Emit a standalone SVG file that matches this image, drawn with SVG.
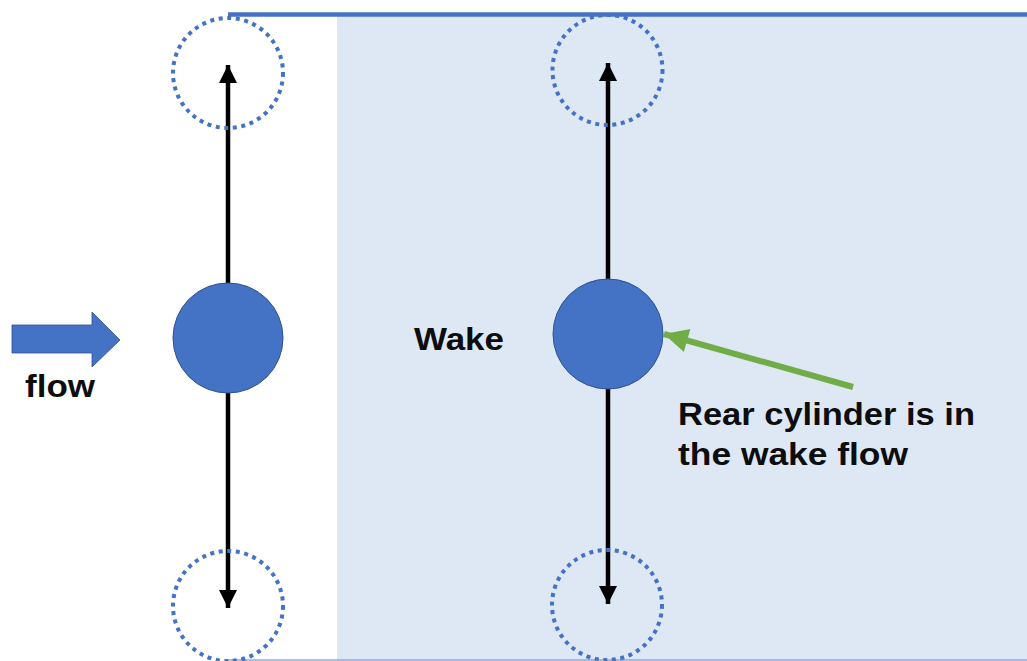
<svg xmlns="http://www.w3.org/2000/svg" width="1027" height="661" viewBox="0 0 1027 661">
<style>
.lbl{font-family:"Liberation Sans",Arial,sans-serif;font-weight:bold;font-size:31px;fill:#0d0d0d}
.cyl{fill:#4472C4;stroke:#2F528F;stroke-width:1}
.dot{fill:none;stroke:#4472C4;stroke-width:4;stroke-dasharray:4 4.6}
.bar{stroke:#000;stroke-width:4.5;fill:none}
</style>
<defs>
<marker id="ah" viewBox="0 0 10 10" refX="10" refY="5" markerWidth="4.2" markerHeight="4" markerUnits="strokeWidth" orient="auto">
<path d="M0,0 L10,5 L0,10 z" fill="#000"/>
</marker>
<marker id="gh" viewBox="0 0 10 10" refX="10" refY="5" markerWidth="4.2" markerHeight="4" markerUnits="strokeWidth" orient="auto">
<path d="M0,0 L10,5 L0,10 z" fill="#70AD47"/>
</marker>
</defs>
<rect width="1027" height="661" fill="#fff"/>
<g id="wake-region">
<rect x="337" y="15" width="690" height="646" fill="#DEE8F5"/>
<line x1="228" y1="14.5" x2="1027" y2="14.5" stroke="#4472C4" stroke-width="4.5"/>
<line x1="228" y1="660" x2="1027" y2="660" stroke="#8FAADC" stroke-width="1.5"/>
</g>
<g id="connectors">
<line class="bar" x1="228" y1="283" x2="228" y2="65" marker-end="url(#ah)"/>
<line class="bar" x1="228" y1="393" x2="228" y2="608" marker-end="url(#ah)"/>
<line class="bar" x1="608" y1="279" x2="608" y2="63" marker-end="url(#ah)"/>
<line class="bar" x1="608" y1="389" x2="608" y2="604" marker-end="url(#ah)"/>
<line x1="853" y1="387" x2="664" y2="334" stroke="#70AD47" stroke-width="6" marker-end="url(#gh)"/>
</g>
<g id="front-top-orbit"><circle class="dot" cx="228" cy="73" r="55"/></g>
<g id="front-bottom-orbit"><circle class="dot" cx="228" cy="606" r="55"/></g>
<g id="rear-top-orbit"><circle class="dot" cx="607.5" cy="70" r="55"/></g>
<g id="rear-bottom-orbit"><circle class="dot" cx="607" cy="605" r="55"/></g>
<g id="front-cylinder"><circle class="cyl" cx="228" cy="338" r="55"/></g>
<g id="rear-cylinder"><circle class="cyl" cx="608" cy="334" r="55"/></g>
<g id="flow-arrow">
<path d="M12,325 H92 V312 L120,340 L92,367 V353 H12 Z" fill="#4472C4" stroke="#2F528F" stroke-width="0.8"/>
<text class="lbl" x="25" y="397" textLength="70" lengthAdjust="spacingAndGlyphs">flow</text>
</g>
<g id="wake-label">
<text class="lbl" x="414" y="350" textLength="90" lengthAdjust="spacingAndGlyphs">Wake</text>
</g>
<g id="rear-note">
<text class="lbl" x="678" y="425" textLength="297" lengthAdjust="spacingAndGlyphs">Rear cylinder is in</text>
<text class="lbl" x="678" y="465" textLength="230" lengthAdjust="spacingAndGlyphs">the wake flow</text>
</g>
</svg>
